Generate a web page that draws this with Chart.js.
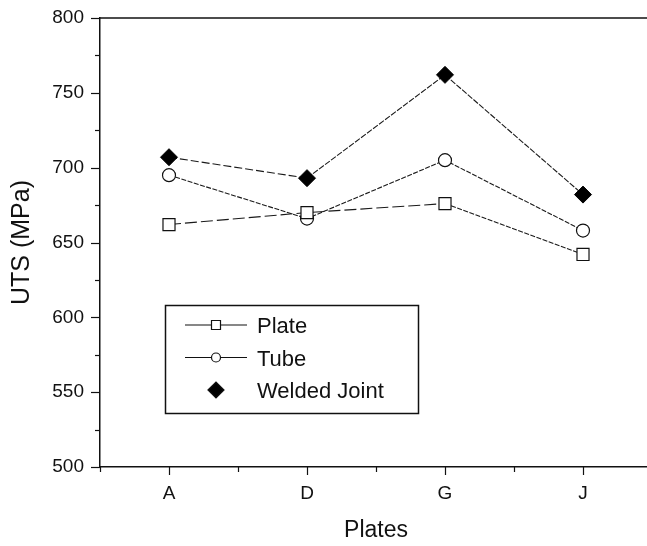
<!DOCTYPE html>
<html>
<head>
<meta charset="utf-8">
<script src="https://cdn.jsdelivr.net/npm/chart.js@4"></script>
<style>
  html, body { margin: 0; padding: 0; background: #fff; overflow: hidden; }
  #wrap { width: 660px; height: 546px; }
</style>
</head>
<body>
<div id="wrap"><canvas id="utsChart" width="660" height="546"></canvas></div>
<script>
// values
const categories = ['A', 'D', 'G', 'J'];
const plateUTS = [662, 670, 676, 642];
const tubeUTS = [695, 666, 705, 658];
const weldedUTS = [707, 693, 762, 682];
const yTicks = [500, 550, 600, 650, 700, 750, 800];

const ink = '#111';
const font = 'Liberation Sans, Arial, sans-serif';

// dash pattern per segment, roughly as the scanned lines look
const dashFor = (patterns) => (ctx) => patterns[ctx.p0DataIndex] || [];

// extra axis decoration: major/minor tick marks, top frame line, legend box
const frameAndLegend = {
    id: 'frameAndLegend',
    afterDraw(chart) {
        const { ctx, chartArea: area, scales } = chart;
        const x = scales.x, y = scales.y;
        ctx.save();
        ctx.strokeStyle = ink;
        ctx.lineWidth = 1.5;
        // top frame
        ctx.beginPath();
        ctx.moveTo(area.left, area.top);
        ctx.lineTo(area.right, area.top);
        ctx.stroke();
        // y ticks, major every 50, minor every 25
        ctx.lineWidth = 1.2;
        for (let v = y.min; v <= y.max; v += 25) {
            const py = Math.round(y.getPixelForValue(v)) + 0.5;
            const len = v % 50 === 0 ? 9 : 5;
            ctx.beginPath();
            ctx.moveTo(area.left - len, py);
            ctx.lineTo(area.left, py);
            ctx.stroke();
        }
        // x ticks at categories, minor at boundaries
        const step = x.getPixelForValue(1) - x.getPixelForValue(0);
        categories.forEach((c, i) => {
            const px = Math.round(x.getPixelForValue(i)) + 0.5;
            ctx.beginPath();
            ctx.moveTo(px, area.bottom);
            ctx.lineTo(px, area.bottom + 8);
            ctx.stroke();
            const bx = Math.round(x.getPixelForValue(i) - step / 2) + 0.5;
            ctx.beginPath();
            ctx.moveTo(bx, area.bottom);
            ctx.lineTo(bx, area.bottom + 5);
            ctx.stroke();
        });

        // legend box inside the plot
        const lx = area.left + 65, ly = area.top + 287, lw = 253, lh = 108;
        ctx.lineWidth = 1.5;
        ctx.strokeRect(lx + 0.5, ly + 0.5, lw, lh);
        ctx.font = '22px ' + font;
        ctx.fillStyle = ink;
        ctx.textBaseline = 'middle';
        chart.data.datasets.forEach((ds, i) => {
            const cy = ly + 20 + i * 32.5;
            const cx = lx + 51;
            if (ds.legendLine) {
                ctx.lineWidth = 1.2;
                ctx.beginPath();
                ctx.moveTo(lx + 20, cy);
                ctx.lineTo(lx + 82, cy);
                ctx.stroke();
            }
            ctx.lineWidth = 1.2;
            ctx.fillStyle = ds.pointBackgroundColor;
            ctx.beginPath();
            if (ds.pointStyle === 'rect') {
                ctx.rect(cx - 4.5, cy - 4.5, 9, 9);
            } else if (ds.pointStyle === 'circle') {
                ctx.arc(cx, cy, 4.5, 0, Math.PI * 2);
            } else {
                ctx.moveTo(cx - 8, cy);
                ctx.lineTo(cx, cy - 8);
                ctx.lineTo(cx + 8, cy);
                ctx.lineTo(cx, cy + 8);
                ctx.closePath();
            }
            ctx.fill();
            ctx.stroke();
            ctx.fillStyle = ink;
            ctx.fillText(ds.label, lx + 92, cy + 2);
        });
        ctx.restore();
    }
};

new Chart(document.getElementById('utsChart'), {
    type: 'line',
    data: {
        labels: categories,
        datasets: [{
            label: 'Plate',
            data: plateUTS,
            borderColor: '#1a1a1a',
            borderWidth: 1.1,
            pointStyle: 'rect',
            pointRadius: 8.5,
            pointBackgroundColor: '#fff',
            pointBorderColor: ink,
            pointBorderWidth: 1.2,
            legendLine: true,
            segment: { borderDash: dashFor([[12, 4], [12, 4], [5, 1.5]]) }
        }, {
            label: 'Tube',
            data: tubeUTS,
            borderColor: '#1a1a1a',
            borderWidth: 1.1,
            pointStyle: 'circle',
            pointRadius: 6.5,
            pointBackgroundColor: '#fff',
            pointBorderColor: ink,
            pointBorderWidth: 1.2,
            legendLine: true,
            segment: { borderDash: dashFor([[5, 1.5], [5, 1.5], [5, 1.5]]) }
        }, {
            label: 'Welded Joint',
            data: weldedUTS,
            borderColor: '#1a1a1a',
            borderWidth: 1.1,
            pointStyle: 'rectRot',
            pointRadius: 8.5,
            pointBackgroundColor: '#000',
            pointBorderColor: '#000',
            pointBorderWidth: 1,
            legendLine: false,
            segment: { borderDash: dashFor([[8, 3], [6, 1.5], [6, 1.5]]) }
        }]
    },
    options: {
        responsive: false,
        animation: false,
        layout: { autoPadding: false, padding: { top: 18, right: 8, left: 0, bottom: 0 } },
        plugins: {
            legend: { display: false },
            tooltip: { enabled: false }
        },
        scales: {
            x: {
                offset: true,
                grid: { drawOnChartArea: false, drawTicks: false, color: 'transparent' },
                border: { display: true, color: ink, width: 1.5 },
                ticks: { color: ink, font: { family: font, size: 19 }, padding: 15 },
                title: { display: true, text: 'Plates', color: ink, font: { family: font, size: 23 }, padding: { top: 0, bottom: 2 } },
                afterFit(scale) { scale.height = 79; }
            },
            y: {
                min: 500,
                max: 800,
                afterBuildTicks(scale) { scale.ticks = yTicks.map(v => ({ value: v })); },
                grid: { drawOnChartArea: false, drawTicks: false, color: 'transparent' },
                border: { display: true, color: ink, width: 1.5 },
                ticks: { color: ink, font: { family: font, size: 19 }, padding: 16 },
                title: { display: true, text: 'UTS (MPa)', color: ink, font: { family: font, size: 25 }, padding: { top: 7, bottom: 0 } },
                afterFit(scale) { scale.width = 100; scale.paddingTop = 0; scale.paddingBottom = 0; }
            }
        }
    },
    plugins: [frameAndLegend]
});
</script>
</body>
</html>
